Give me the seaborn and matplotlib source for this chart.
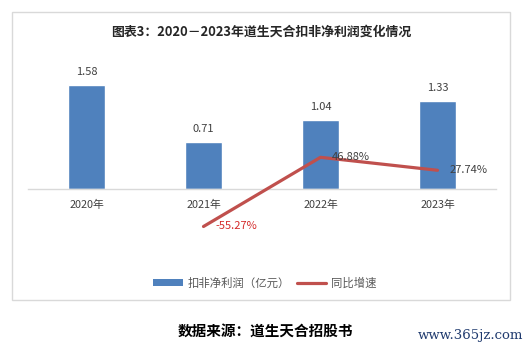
import numpy as np
import pandas as pd
import matplotlib
matplotlib.use('Agg')
import matplotlib.pyplot as plt
from matplotlib.patches import Rectangle, Patch
from matplotlib.lines import Line2D
import seaborn as sns

sns.set_style('white')
plt.rcParams['font.family'] = ['Noto Sans CJK SC', 'DejaVu Sans']
plt.rcParams['axes.unicode_minus'] = False

# ── 数据
years = ['2020年', '2021年', '2022年', '2023年']
profit = [1.58, 0.71, 1.04, 1.33]          # 扣非净利润（亿元）
growth_years = ['2021年', '2022年', '2023年']
growth = [-55.27, 46.88, 27.74]             # 同比增速 (%)

BAR_C = '#4F81BD'
LINE_C = '#C0504D'
TXT_C = '#404040'
W, H = 532, 351

fig = plt.figure(figsize=(W / 100, H / 100), dpi=100)
fig.patch.set_facecolor('white')

# 外框
fig.add_artist(Rectangle((12 / W, 1 - 300 / H), (510 - 12) / W, (300 - 12) / H,
                         transform=fig.transFigure, fill=False,
                         edgecolor='#d9d9d9', lw=1.0))

ax = fig.add_axes([28 / W, 1 - 230 / H, (496 - 28) / W, (230 - 57) / H])
df = pd.DataFrame({'year': years, 'profit': profit})
sns.barplot(data=df, x='year', y='profit', color=BAR_C, width=0.32,
            saturation=1, ax=ax)
ax.set_xlim(-0.5, 3.5)
ax.set_ylim(-0.62, 2.0)
for i, v in enumerate(profit):
    ax.text(i, v + 0.12, f'{v:.2f}', ha='center', va='bottom',
            fontsize=8, color=TXT_C)

for s in ['top', 'right', 'left']:
    ax.spines[s].set_visible(False)
ax.spines['bottom'].set_position(('data', 0))
ax.spines['bottom'].set_color('#d9d9d9')
ax.spines['bottom'].set_linewidth(1.0)
ax.set_yticks([])
ax.tick_params(axis='x', length=0, pad=8, labelsize=7.8, labelcolor=TXT_C)
ax.set_xlabel('')
ax.set_ylabel('')

# 同比增速（次坐标轴）
ax2 = ax.twinx()
gdf = pd.DataFrame({'year': growth_years, 'growth': growth})
sns.lineplot(data=gdf, x='year', y='growth', color=LINE_C, lw=2.3, ax=ax2)
ax2.set_ylim(-0.62 * 97.5, 2.0 * 97.5)
ax2.set_xlim(-0.5, 3.5)
for s in ax2.spines.values():
    s.set_visible(False)
ax2.set_yticks([])
ax2.set_ylabel('')
ax2.set_xlabel('')
for yr, g in zip(growth_years, growth):
    xi = years.index(yr)
    col = '#D42A2A' if g < 0 else TXT_C
    ax2.text(xi + 0.1, g, f'{g:.2f}%', ha='left', va='center',
             fontsize=8, color=col)

# 标题
fig.text(261 / W, 1 - 32 / H, '图表3：2020－2023年道生天合扣非净利润变化情况',
         ha='center', va='center', fontsize=9.3, fontweight='bold', color='#262626')

# 图例
handles = [Patch(facecolor=BAR_C, edgecolor='none'),
           Line2D([0], [0], color=LINE_C, lw=2.3)]
fig.legend(handles, ['扣非净利润（亿元）', '同比增速'], loc='center',
           bbox_to_anchor=(265 / W, 1 - 283 / H), ncol=2, frameon=False,
           fontsize=8.2, labelcolor='#595959', handlelength=2.6,
           handleheight=0.5, columnspacing=0.6, handletextpad=0.4)

# 来源
fig.text(265 / W, 1 - 331 / H, '数据来源：道生天合招股书', ha='center',
         va='center', fontsize=10.5, fontweight='bold', color='black')
fig.text(470 / W, 1 - 335 / H, 'www.365jz.com', ha='center', va='center',
         fontsize=9.5, color='#1F3A6E', family='DejaVu Serif')

fig.savefig('out.png', dpi=100, facecolor='white')
